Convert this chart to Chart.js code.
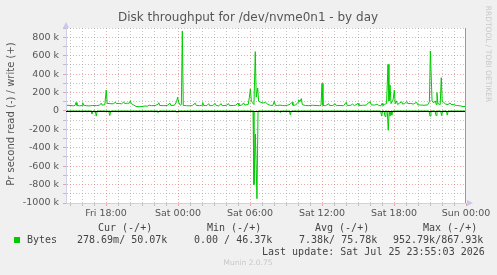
<!DOCTYPE html>
<html>
<head>
<meta charset="utf-8">
<title>Disk throughput for /dev/nvme0n1 - by day</title>
<script src="https://cdn.jsdelivr.net/npm/chart.js@4.4.1/dist/chart.umd.min.js"></script>
<style>
  html, body { margin: 0; padding: 0; background: #f0f0f0; }
  #wrap { width: 497px; height: 275px; }
</style>
</head>
<body>
<div id="wrap"><canvas id="chart" width="497" height="275"></canvas></div>
<script>
// ========================================
// DATA - hours since Fri 00:00, k bytes per second
// ========================================
const writeSeries = [
    [14.75, 62], [15.0, 60], [15.3, 57], [15.42, 60], [15.5, 92], [15.58, 60], [15.8, 56], [16.0, 60],
    [16.06, 90], [16.14, 62], [16.4, 57], [16.6, 55], [16.9, 60], [17.2, 58], [17.45, 62], [17.6, 85],
    [17.68, 64], [17.9, 68], [18.02, 228], [18.1, 82], [18.35, 80], [18.6, 78], [18.78, 95], [18.86, 80],
    [19.1, 82], [19.3, 78], [19.47, 98], [19.55, 82], [19.8, 84], [19.95, 86], [20.03, 112], [20.11, 80],
    [20.3, 66], [20.5, 50], [20.75, 46], [21.0, 48], [21.25, 55], [21.45, 52], [21.6, 62], [21.8, 58],
    [22.1, 60], [22.33, 72], [22.4, 90], [22.48, 60], [22.8, 58], [23.1, 60], [23.33, 85], [23.41, 60],
    [23.7, 62], [23.88, 100], [23.97, 150], [24.05, 95], [24.2, 62], [24.28, 70], [24.36, 870], [24.44, 60],
    [24.7, 58], [25.0, 56], [25.2, 60], [25.44, 85], [25.52, 60], [25.8, 58], [26.0, 62], [26.06, 92],
    [26.14, 60], [26.4, 58], [26.56, 80], [26.64, 58], [26.9, 60], [27.1, 82], [27.18, 60], [27.4, 56],
    [27.6, 80], [27.68, 58], [28.0, 60], [28.22, 80], [28.3, 58], [28.6, 60], [28.8, 62], [29.0, 85],
    [29.08, 60], [29.3, 62], [29.47, 88], [29.55, 65], [29.85, 70], [29.95, 150], [30.03, 240], [30.11, 110],
    [30.2, 90], [30.33, 70], [30.44, 645], [30.52, 150], [30.64, 250], [30.72, 105], [30.9, 95], [31.1, 88],
    [31.3, 92], [31.5, 70], [31.7, 62], [31.9, 60], [32.03, 108], [32.11, 62], [32.3, 60], [32.5, 64],
    [32.7, 60], [32.9, 58], [33.1, 62], [33.33, 72], [33.5, 95], [33.58, 62], [33.8, 64], [34.0, 95],
    [34.06, 122], [34.15, 100], [34.28, 135], [34.36, 70], [34.6, 60], [34.9, 58], [35.2, 62], [35.5, 60],
    [35.8, 58], [35.92, 62], [36.0, 300], [36.08, 60], [36.3, 58], [36.56, 80], [36.64, 58], [36.9, 60],
    [37.1, 78], [37.2, 58], [37.5, 60], [37.8, 58], [38.02, 95], [38.1, 60], [38.4, 62], [38.55, 75],
    [38.7, 58], [39.0, 82], [39.08, 60], [39.4, 62], [39.7, 64], [39.85, 88], [40.03, 100], [40.11, 66],
    [40.4, 64], [40.6, 75], [40.7, 62], [40.9, 55], [41.0, 82], [41.08, 60], [41.2, 72], [41.38, 80],
    [41.5, 507], [41.58, 110], [41.67, 283], [41.75, 80], [41.92, 120], [42.03, 228], [42.1, 80], [42.2, 110],
    [42.3, 70], [42.45, 85], [42.64, 100], [42.72, 75], [42.9, 80], [43.06, 105], [43.15, 80], [43.4, 82],
    [43.6, 75], [43.89, 95], [43.97, 68], [44.2, 65], [44.5, 62], [44.8, 66], [44.95, 100], [45.03, 652],
    [45.17, 110], [45.3, 88], [45.44, 110], [45.52, 70], [45.58, 200], [45.66, 80], [45.85, 70], [45.94, 362],
    [46.02, 100], [46.12, 95], [46.3, 75], [46.5, 70], [46.67, 88], [46.75, 72], [47.0, 68], [47.2, 60],
    [47.5, 56], [47.75, 48], [47.92, 50]
];

const readSeries = [
    [14.75, 0], [16.75, 0], [16.83, 30], [16.92, 0], [17.1, 0], [17.19, 55], [17.27, 0], [18.23, 0],
    [18.31, 50], [18.39, 0], [22.25, 0], [22.33, 15], [22.41, 0], [23.84, 0], [23.92, 15], [24.0, 0],
    [30.25, 0], [30.33, 800], [30.45, 250], [30.58, 953], [30.67, 0], [32.45, 0], [32.53, 18], [32.61, 0],
    [33.28, 0], [33.36, 43], [33.44, 0], [40.89, 0], [40.97, 55], [41.05, 0], [41.17, 0], [41.25, 60],
    [41.33, 0], [41.44, 0], [41.52, 210], [41.6, 0], [41.67, 55], [41.75, 0], [41.81, 45], [41.89, 0],
    [44.92, 0], [45.0, 55], [45.08, 0], [45.42, 0], [45.5, 50], [45.58, 0], [45.89, 0], [45.97, 50],
    [46.05, 0], [46.36, 0], [46.44, 45], [46.52, 0], [47.92, 0]
];

const hourLabels = { 18: 'Fri 18:00', 24: 'Sat 00:00', 30: 'Sat 06:00', 36: 'Sat 12:00', 42: 'Sat 18:00', 48: 'Sun 00:00' };
const legendHeads = ['Cur (-/+)', 'Min (-/+)', 'Avg (-/+)', 'Max (-/+)'];
const legendValues = ['278.69m/ 50.07k', '0.00 / 46.37k', '7.38k/ 75.78k', '952.79k/867.93k'];
const lastUpdate = 'Last update: Sat Jul 25 23:55:03 2026';

// ========================================
// STYLE
// ========================================
const GREEN = '#00cc00';
const MINOR = 'rgba(150, 150, 150, 0.55)';
const MAJOR = 'rgba(225, 110, 110, 0.6)';
const TEXT = '#555555';
const SANS = '"DejaVu Sans", sans-serif';
const MONO = '"DejaVu Sans Mono", monospace';

Chart.defaults.font.family = SANS;

const toPoints = (series, sign) => series.map(([h, v]) => ({ x: h, y: sign * v * 1000 }));

// plot background + decorations + munin text
const muninPlugin = {
    id: 'munin',
    beforeDraw(chart) {
        const { ctx, chartArea: a } = chart;
        ctx.save();
        ctx.fillStyle = '#f0f0f0';
        ctx.fillRect(0, 0, chart.width, chart.height);
        ctx.fillStyle = '#ffffff';
        ctx.fillRect(a.left, a.top, a.right - a.left, a.bottom - a.top);
        ctx.restore();
    },
    afterDatasetsDraw(chart) {
        const { ctx, chartArea: a, scales } = chart;
        const y0 = Math.round(scales.y.getPixelForValue(0)) + 0.5;
        ctx.save();
        ctx.strokeStyle = '#000000';
        ctx.lineWidth = 1;
        ctx.beginPath();
        ctx.moveTo(a.left, y0);
        ctx.lineTo(a.right, y0);
        ctx.stroke();
        ctx.restore();
    },
    afterDraw(chart) {
        const { ctx, chartArea: a } = chart;
        ctx.save();

        // right frame line
        ctx.strokeStyle = '#999999';
        ctx.lineWidth = 1;
        ctx.beginPath();
        ctx.moveTo(a.right - 0.5, a.top);
        ctx.lineTo(a.right - 0.5, a.bottom);
        ctx.stroke();

        // axis arrows
        ctx.fillStyle = '#c8c8f0';
        ctx.beginPath();
        ctx.moveTo(a.left - 3, a.top);
        ctx.lineTo(a.left + 3, a.top);
        ctx.lineTo(a.left, a.top - 6);
        ctx.closePath();
        ctx.fill();
        ctx.beginPath();
        ctx.moveTo(a.right + 1, a.bottom - 3);
        ctx.lineTo(a.right + 1, a.bottom + 3);
        ctx.lineTo(a.right + 7, a.bottom);
        ctx.closePath();
        ctx.fill();

        // title
        ctx.fillStyle = TEXT;
        ctx.font = '12px ' + SANS;
        ctx.textAlign = 'center';
        ctx.textBaseline = 'middle';
        ctx.fillText('Disk throughput for /dev/nvme0n1 - by day', 248, 18);

        // vertical axis title
        ctx.save();
        ctx.translate(11, 114);
        ctx.rotate(-Math.PI / 2);
        ctx.font = '10px ' + SANS;
        ctx.fillText('Pr second read (-) / write (+)', 0, 0);
        ctx.restore();

        // rrdtool credit
        ctx.save();
        ctx.translate(488, 54);
        ctx.rotate(Math.PI / 2);
        ctx.fillStyle = '#c8c8c8';
        ctx.font = '7.5px ' + SANS;
        ctx.fillText('RRDTOOL / TOBI OETIKER', 0, 0);
        ctx.restore();

        // legend
        ctx.font = '10px ' + MONO;
        ctx.fillStyle = '#444444';
        ctx.textAlign = 'left';
        const headX = [98, 207, 315, 423];
        const valX = [77, 194, 299, 393];
        legendHeads.forEach((t, i) => ctx.fillText(t, headX[i], 228));
        ctx.fillText('Bytes', 27, 240.5);
        legendValues.forEach((t, i) => ctx.fillText(t, valX[i], 240.5));
        ctx.fillText(lastUpdate, 262, 252.5);
        ctx.fillStyle = GREEN;
        ctx.fillRect(14, 237, 6, 6);

        ctx.fillStyle = '#c8c8c8';
        ctx.font = '7.5px ' + SANS;
        ctx.textAlign = 'center';
        ctx.fillText('Munin 2.0.75', 248, 263.5);

        ctx.restore();
    }
};

// ========================================
// CHART
// ========================================
const ctx = document.getElementById('chart').getContext('2d');

new Chart(ctx, {
    type: 'line',
    data: {
        datasets: [
            {
                label: 'read',
                data: toPoints(readSeries, -1),
                borderColor: GREEN,
                borderWidth: 1,
                pointRadius: 0,
                tension: 0,
                fill: false
            },
            {
                label: 'write',
                data: toPoints(writeSeries, 1),
                borderColor: GREEN,
                borderWidth: 1,
                pointRadius: 0,
                tension: 0,
                fill: false
            }
        ]
    },
    options: {
        responsive: false,
        animation: false,
        devicePixelRatio: 1,
        layout: { padding: { left: 0, top: 28, right: 31, bottom: 0 } },
        plugins: {
            legend: { display: false },
            tooltip: { enabled: false },
            title: { display: false }
        },
        scales: {
            x: {
                type: 'linear',
                min: 48 - 400 / 12,
                max: 48,
                afterBuildTicks: scale => {
                    const ticks = [];
                    for (let h = 15; h <= 48; h++) ticks.push({ value: h });
                    scale.ticks = ticks;
                },
                afterFit: scale => { scale.height = 72; },
                ticks: {
                    autoSkip: false,
                    maxRotation: 0,
                    padding: 2,
                    color: TEXT,
                    font: { size: 9.5 },
                    callback: v => hourLabels[v] || ''
                },
                grid: {
                    // last line sits under the right frame
                    color: c => {
                        if (!c.tick) return MINOR;
                        if (c.tick.value === 48) return 'rgba(0, 0, 0, 0)';
                        return c.tick.value % 6 === 0 ? MAJOR : MINOR;
                    },
                    tickColor: c => (c.tick && c.tick.value % 6 === 0 ? MAJOR : MINOR),
                    tickLength: 3
                },
                border: { display: true, color: '#d0d0e8', dash: [1, 2] }
            },
            y: {
                type: 'linear',
                min: -1000000,
                max: 902000,
                afterBuildTicks: scale => {
                    const ticks = [];
                    for (let v = -1000000; v <= 900000; v += 100000) ticks.push({ value: v });
                    scale.ticks = ticks;
                },
                afterFit: scale => { scale.width = 66; },
                ticks: {
                    autoSkip: false,
                    padding: 4,
                    color: TEXT,
                    font: { size: 9.5 },
                    callback: v => (v % 200000 !== 0 ? '' : v === 0 ? '0' : (v / 1000) + ' k')
                },
                grid: {
                    color: c => (c.tick && c.tick.value % 200000 === 0 ? MAJOR : MINOR),
                    tickLength: 3
                },
                border: { display: true, color: '#d0d0e8', dash: [1, 2] }
            }
        }
    },
    plugins: [muninPlugin]
});
</script>
</body>
</html>
